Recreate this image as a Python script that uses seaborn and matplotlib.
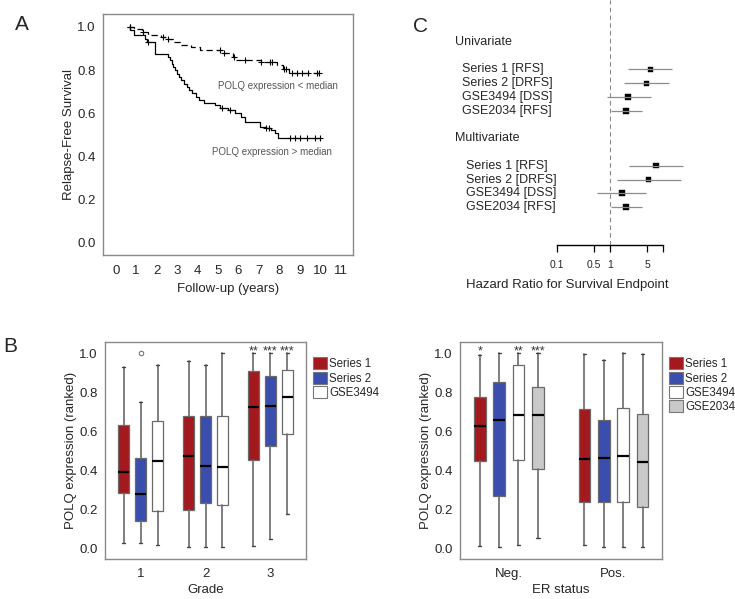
import numpy as np
import matplotlib
matplotlib.use("Agg")
import matplotlib.pyplot as plt
import matplotlib.transforms as mtransforms
from matplotlib.patches import Patch
import seaborn as sns
import pandas as pd

# ── Panel A: Kaplan-Meier step points ────────────────────────────────────────
km_high_t = [0.63, 0.72, 0.88, 1.45, 1.55, 1.93, 2.57, 2.65, 2.73, 2.82, 2.9, 3.0,
             3.1, 3.2, 3.35, 3.5, 3.6, 3.75, 3.9, 4.05, 4.3, 4.85, 5.1, 5.5, 5.85,
             6.1, 6.3, 7.05, 7.35, 7.6, 7.78, 7.94, 10.0]
km_high_s = [1.0, 0.985, 0.962, 0.946, 0.93, 0.877, 0.861, 0.846, 0.83, 0.815, 0.8, 0.784,
             0.769, 0.753, 0.738, 0.723, 0.708, 0.692, 0.677, 0.662, 0.646, 0.638, 0.623,
             0.615, 0.6, 0.585, 0.561, 0.538, 0.53, 0.523, 0.507, 0.484, 0.484]
km_high_cens = [0.68, 1.6, 5.2, 5.6, 7.35, 7.5, 8.5, 8.75, 9.0, 9.35, 9.75, 9.98]

km_low_t = [0.63, 0.9, 1.3, 1.6, 2.2, 2.5, 2.85, 3.2, 3.7, 4.1, 5.2, 5.75, 5.9,
            7.1, 7.9, 8.15, 8.45, 10.0]
km_low_s = [1.0, 0.992, 0.977, 0.962, 0.954, 0.946, 0.931, 0.918, 0.907, 0.893, 0.878,
            0.862, 0.847, 0.838, 0.822, 0.805, 0.786, 0.786]
km_low_cens = [0.7, 1.35, 2.3, 2.55, 5.1, 5.3, 5.8, 6.3, 7.1, 7.55, 7.65, 8.2, 8.3,
               8.6, 8.85, 9.1, 9.4, 9.85, 9.95]

# ── Panel B: box statistics (rows = series, cols = group) ────────────────────
grade_labels = ["1", "2", "3"]
grade_series = ["Series 1", "Series 2", "GSE3494"]
grade_lo = [[0.026, 0.005, 0.010], [0.026, 0.005, 0.046], [0.017, 0.005, 0.174]]
grade_q1 = [[0.284, 0.195, 0.455], [0.142, 0.231, 0.525], [0.191, 0.220, 0.585]]
grade_med = [[0.393, 0.475, 0.726], [0.277, 0.420, 0.732], [0.450, 0.417, 0.774]]
grade_q3 = [[0.632, 0.680, 0.908], [0.463, 0.677, 0.885], [0.653, 0.680, 0.916]]
grade_hi = [[0.928, 0.962, 1.000], [0.749, 0.938, 1.000], [0.938, 1.000, 1.000]]
grade_fliers = [[[], [], []], [[1.0], [], []], [[], [], []]]
grade_stars = [["", "", "**"], ["", "", "***"], ["", "", "***"]]

er_labels = ["Neg.", "Pos."]
er_series = ["Series 1", "Series 2", "GSE3494", "GSE2034"]
er_lo = [[0.012, 0.019], [0.009, 0.005], [0.015, 0.005], [0.051, 0.005]]
er_q1 = [[0.446, 0.236], [0.267, 0.239], [0.453, 0.238], [0.409, 0.214]]
er_med = [[0.629, 0.458], [0.660, 0.465], [0.685, 0.474], [0.682, 0.441]]
er_q3 = [[0.776, 0.716], [0.853, 0.658], [0.938, 0.721], [0.829, 0.687]]
er_hi = [[0.991, 0.995], [1.000, 0.966], [1.000, 1.000], [1.000, 0.995]]
er_stars = [["*", ""], ["", ""], ["**", ""], ["***", ""]]

# ── Panel C: hazard ratios ───────────────────────────────────────────────────
forest_labels = ["Series 1 [RFS]", "Series 2 [DRFS]", "GSE3494 [DSS]", "GSE2034 [RFS]"]
uni_hr = [5.9, 4.9, 2.2, 2.0]
uni_lo = [2.2, 1.86, 0.89, 1.03]
uni_hi = [14.8, 13.1, 5.9, 4.0]
multi_hr = [7.4, 5.4, 1.7, 2.0]
multi_lo = [2.3, 1.37, 0.58, 1.03]
multi_hi = [23.5, 21.6, 4.7, 4.0]

series_colors = {"Series 1": "#A3191E", "Series 2": "#3B4EAD",
                 "GSE3494": "#FFFFFF", "GSE2034": "#C9C9C9"}

sns.set_style("white")
plt.rcParams["font.family"] = ["Liberation Sans", "DejaVu Sans"]
FRAME = "#8a8a8a"
W, H = 735, 599

fig = plt.figure(figsize=(W / 100, H / 100), dpi=100)


def px_axes(x0, y0, x1, y1):
    return fig.add_axes([x0 / W, 1 - y1 / H, (x1 - x0) / W, (y1 - y0) / H])


def style_frame(ax):
    for sp in ax.spines.values():
        sp.set_color(FRAME)
        sp.set_linewidth(1.0)
    ax.tick_params(direction="out", length=4.5, width=0.9, color="#555555",
                   labelsize=9.5, pad=2)


# ── A: Kaplan-Meier ──────────────────────────────────────────────────────────
axA = px_axes(103, 14, 353, 255)
style_frame(axA)
km = pd.concat([
    pd.DataFrame({"t": km_high_t, "s": km_high_s, "grp": "high"}),
    pd.DataFrame({"t": km_low_t, "s": km_low_s, "grp": "low"}),
])
sns.lineplot(data=km, x="t", y="s", style="grp", style_order=["high", "low"],
             dashes=[(None, None), (5, 3)], color="black", lw=0.9,
             drawstyle="steps-post", estimator=None, legend=False, ax=axA)


def step_at(ts, ss, x):
    idx = np.searchsorted(ts, x, side="right") - 1
    return np.asarray(ss)[idx]


cens = pd.concat([
    pd.DataFrame({"t": km_high_cens, "s": step_at(km_high_t, km_high_s, km_high_cens)}),
    pd.DataFrame({"t": km_low_cens, "s": step_at(km_low_t, km_low_s, km_low_cens)}),
])
sns.scatterplot(data=cens, x="t", y="s", marker="+", s=22, color="black",
                linewidth=0.8, legend=False, ax=axA)
axA.set_xlim(-0.62, 11.59)
axA.set_ylim(-0.056, 1.06)
axA.set_xticks(range(0, 12))
axA.set_yticks(np.arange(0, 1.01, 0.2))
axA.set_yticklabels([f"{v:.1f}" for v in np.arange(0, 1.01, 0.2)])
axA.tick_params(axis="y", pad=0.8)
axA.tick_params(axis="x", pad=3)
axA.set_xlabel("Follow-up (years)", fontsize=9.5, labelpad=4)
axA.set_ylabel("Relapse-Free Survival", fontsize=9.5, labelpad=1.5)
axA.text(5.0, 0.727, "POLQ expression < median", fontsize=7, color="#555555", va="center")
axA.text(4.7, 0.421, "POLQ expression > median", fontsize=7, color="#555555", va="center")
fig.text(22 / W, 1 - 25 / H, "A", fontsize=15, ha="center", va="center")


# ── B: box plots ─────────────────────────────────────────────────────────────
def draw_boxes(ax, groups, series, lo, q1, med, q3, hi, offsets, width, capw,
               stars, fliers=None):
    for i, name in enumerate(series):
        stats = []
        for j in range(len(groups)):
            stats.append({"whislo": lo[i][j], "q1": q1[i][j], "med": med[i][j],
                          "q3": q3[i][j], "whishi": hi[i][j],
                          "fliers": fliers[i][j] if fliers else []})
        pos = [j + offsets[i] for j in range(len(groups))]
        ax.bxp(stats, positions=pos, widths=width, capwidths=capw, patch_artist=True,
               showfliers=True, manage_ticks=False,
               boxprops=dict(facecolor=series_colors[name], edgecolor="#6a6a6a", lw=0.9),
               medianprops=dict(color="black", lw=1.6),
               whiskerprops=dict(color="#6a6a6a", lw=1.2),
               capprops=dict(color="#444444", lw=1.0),
               flierprops=dict(marker="o", markersize=3.2, mfc="none",
                               mec="#777777", mew=0.8))
        for j, st in enumerate(stars[i]):
            if st:
                ax.text(pos[j], 0.995, st, ha="center", va="baseline", fontsize=9,
                        color="#333333")
    ax.set_xticks(range(len(groups)))
    ax.set_xticklabels(groups)
    ax.set_ylim(-0.055, 1.058)
    ax.set_yticks(np.arange(0, 1.01, 0.2))
    ax.set_yticklabels([f"{v:.1f}" for v in np.arange(0, 1.01, 0.2)])
    ax.set_ylabel("POLQ expression (ranked)", fontsize=9.5, labelpad=1.5)
    handles = [Patch(facecolor=series_colors[n], edgecolor="#777777", lw=0.8, label=n)
               for n in series]
    ax.legend(handles=handles, loc="upper left", bbox_to_anchor=(1.035, 0.93),
              frameon=False, fontsize=8.3, handlelength=1.2, handleheight=1.25,
              handletextpad=0.2, labelspacing=0.12, borderaxespad=0, borderpad=0)


axB1 = px_axes(105, 342, 306, 559)
style_frame(axB1)
draw_boxes(axB1, grade_labels, grade_series, grade_lo, grade_q1, grade_med, grade_q3,
           grade_hi, [-0.26, 0.0, 0.26], 0.165, 0.05, grade_stars, grade_fliers)
axB1.set_xlim(-0.55, 2.55)
axB1.set_xlabel("Grade", fontsize=9.5, labelpad=3)
axB1.tick_params(axis="y", pad=0.8)

axB2 = px_axes(460, 342, 662, 559)
style_frame(axB2)
draw_boxes(axB2, er_labels, er_series, er_lo, er_q1, er_med, er_q3, er_hi,
           [-0.278, -0.092, 0.092, 0.278], 0.11, 0.03, er_stars)
axB2.set_xlim(-0.467, 1.464)
axB2.set_xlabel("ER status", fontsize=9.5, labelpad=3)
axB2.tick_params(axis="y", pad=0.8)
fig.text(10 / W, 1 - 347 / H, "B", fontsize=15, ha="center", va="center")

# ── C: forest plot ───────────────────────────────────────────────────────────
axC = px_axes(557, 0, 663, 245)
uni_rows = [2, 3, 4, 5]
multi_rows = [9, 10, 11, 12]
forest = pd.DataFrame({
    "label": forest_labels * 2,
    "hr": uni_hr + multi_hr,
    "lo": uni_lo + multi_lo,
    "hi": uni_hi + multi_hi,
    "row": uni_rows + multi_rows,
    "size": [13, 13, 17, 17] * 2,
})
axC.set_xscale("log")
axC.axvline(1, color="#888888", lw=0.8, ls=(0, (4, 3)), ymin=0, ymax=1, clip_on=False)
axC.hlines(forest["row"], forest["lo"], forest["hi"], color="#8c8c8c", lw=0.9,
           clip_on=False)
sns.scatterplot(data=forest, x="hr", y="row", size="size", sizes=(14, 20),
                marker="s", color="black", edgecolor="black", legend=False,
                clip_on=False, ax=axC)
axC.set_xlim(0.1, 10)
axC.set_ylim(14.76, -3.05)
axC.set_yticks([])
axC.set_ylabel("")
axC.set_xlabel("")
for side in ["top", "right", "left"]:
    axC.spines[side].set_visible(False)
axC.spines["bottom"].set_color("black")
axC.spines["bottom"].set_linewidth(1.0)
axC.set_xticks([0.1, 0.5, 1, 5, 10])
axC.set_xticklabels(["0.1", "0.5", "1", "5", ""])
axC.xaxis.set_minor_locator(matplotlib.ticker.NullLocator())
axC.tick_params(axis="x", direction="out", length=5, width=0.9, color="black",
                labelsize=7.5, pad=6, bottom=True)
trans = mtransforms.blended_transform_factory(axC.transAxes, axC.transData)
axC.text(-0.962, 0, "Univariate", transform=trans, fontsize=9, va="center")
axC.text(-0.962, 7, "Multivariate", transform=trans, fontsize=9, va="center")
for r, lab in zip(uni_rows, forest_labels):
    axC.text(-0.896, r, lab, transform=trans, fontsize=9, va="center")
for r, lab in zip(multi_rows, forest_labels):
    axC.text(-0.858, r, lab, transform=trans, fontsize=9, va="center")
fig.text(567 / W, 1 - 285 / H, "Hazard Ratio for Survival Endpoint", fontsize=9.5,
         ha="center", va="center")
fig.text(421 / W, 1 - 27 / H, "C", fontsize=15, ha="center", va="center")

fig.savefig("out.png", dpi=100)
